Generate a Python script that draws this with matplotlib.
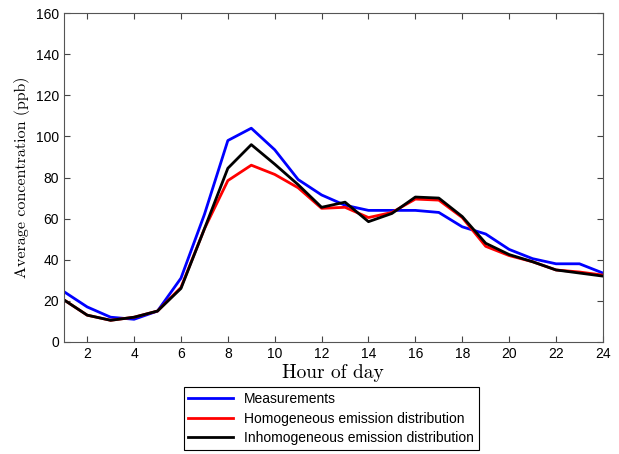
import matplotlib
matplotlib.use('Agg')
import matplotlib.pyplot as plt

# hourly average concentrations
hours = list(range(1, 25))
measurements = [24.5, 17, 12, 11, 15, 31, 62, 98, 104, 93.5, 79, 71.5,
                66.5, 64, 64, 64, 63, 56, 52.5, 45, 40.5, 38, 38, 33.5]
homogeneous = [20.5, 13, 10.5, 12, 15, 26.5, 55, 78.5, 86, 81.5, 75, 65,
               65.5, 60.5, 63, 69.5, 69, 60.5, 46.5, 42, 39, 35, 34, 32.5]
inhomogeneous = [20.5, 13, 10.5, 12, 15, 26, 55, 84.5, 96, 86.5, 76.5, 65.5,
                 68, 58.5, 62.5, 70.5, 70, 61, 48, 42.5, 39, 35, 33.5, 32]

plt.rcParams['font.family'] = ['Liberation Sans', 'DejaVu Sans']

fig = plt.figure(figsize=(6.19, 4.54), dpi=100)
ax = fig.add_axes([0.103, 0.247, 0.871, 0.724])

ax.plot(hours, measurements, color='blue', lw=2, label='Measurements')
ax.plot(hours, homogeneous, color='red', lw=2, label='Homogeneous emission distribution')
ax.plot(hours, inhomogeneous, color='black', lw=2, label='Inhomogeneous emission distribution')

ax.set_xlim(1, 24)
ax.set_ylim(0, 160)
ax.set_xticks(range(2, 25, 2))
ax.set_yticks(range(0, 161, 20))
ax.tick_params(direction='in', top=True, right=True, labelsize=10, length=4, color='#444444')
for s in ax.spines.values():
    s.set_color('#555555')

ax.set_xlabel('Hour of day', fontname='cmr10', fontsize=14, labelpad=2)
ax.set_ylabel('Average concentration (ppb)', fontname='cmr10', fontsize=11.5, labelpad=4)

leg = fig.legend(loc='upper center', bbox_to_anchor=(0.535, 0.147), fontsize=10,
                 handlelength=3.2, fancybox=False, edgecolor='black',
                 framealpha=1, borderaxespad=0, labelspacing=0.4, borderpad=0.35)
leg.get_frame().set_linewidth(0.8)

fig.savefig('out.png', dpi=100)
